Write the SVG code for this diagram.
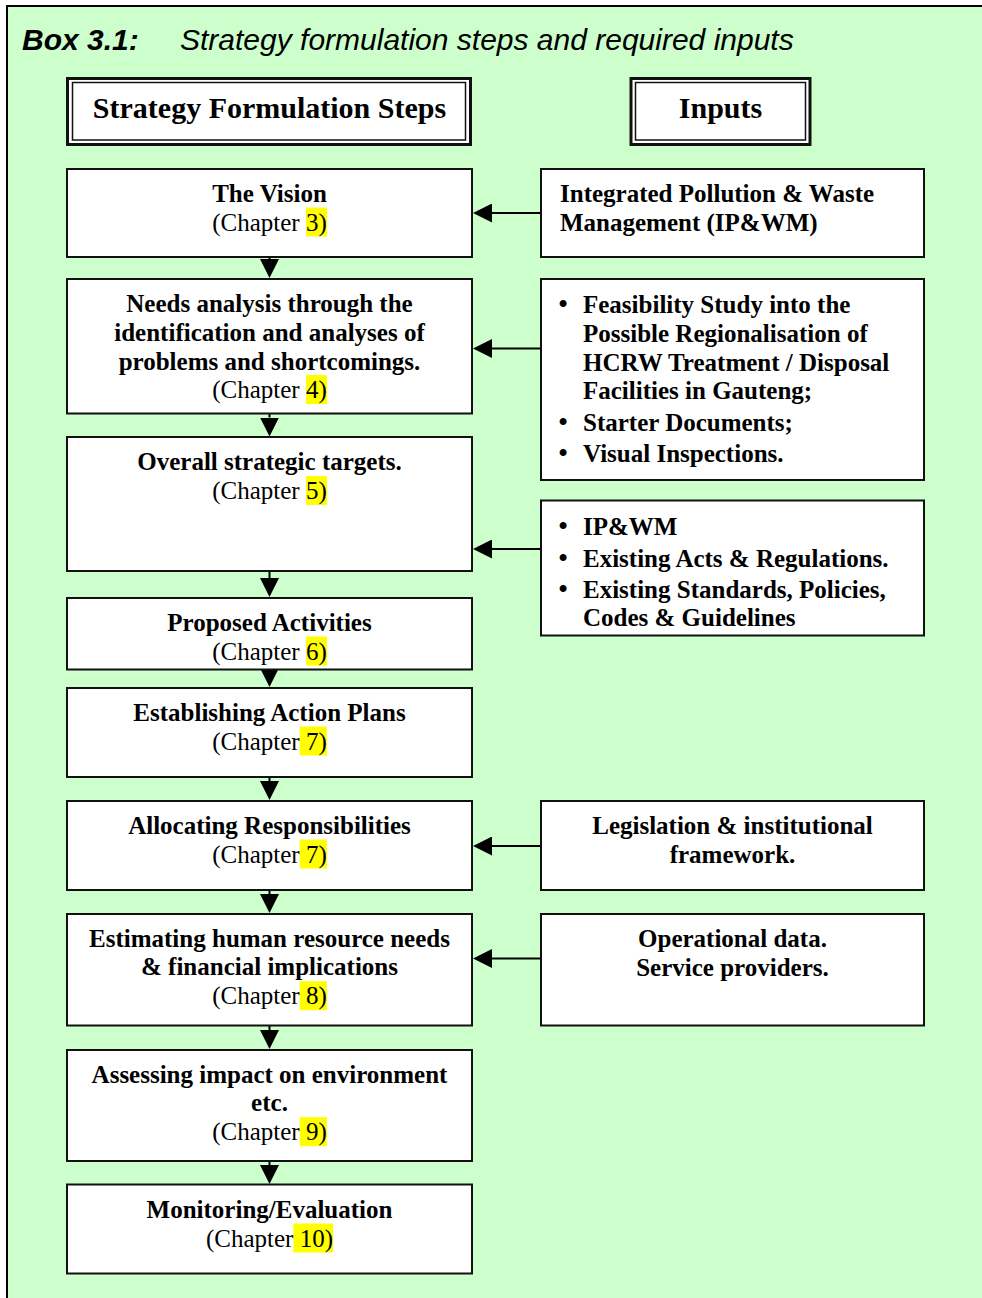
<svg xmlns="http://www.w3.org/2000/svg" width="982" height="1298" viewBox="0 0 982 1298">
<style>
.bg{fill:#CCFFCC}
.frame{fill:none;stroke:#000;stroke-width:2}
.box{fill:#fff;stroke:#111;stroke-width:2}
.hdo{fill:#fff;stroke:#111;stroke-width:3}
.hdi{fill:none;stroke:#111;stroke-width:1.5}
.b{font-family:"Liberation Serif","Times New Roman",serif;font-weight:bold;font-size:25px;fill:#000}
.r{font-family:"Liberation Serif","Times New Roman",serif;font-size:25px;fill:#000}
.bu{font-family:"Liberation Serif","Times New Roman",serif;font-size:29px;fill:#000}
.h{font-family:"Liberation Serif","Times New Roman",serif;font-weight:bold;font-size:30px;fill:#000}
.c{text-anchor:middle}
.hl{fill:#FFFF00}
.t1{font-family:"Liberation Sans",Arial,sans-serif;font-weight:bold;font-style:italic;font-size:30px;fill:#000}
.t2{font-family:"Liberation Sans",Arial,sans-serif;font-style:italic;font-size:30px;fill:#000}
.ln{stroke:#000;stroke-width:2;fill:none}
</style>
<defs>
<marker id="ah" viewBox="0 0 19 19" refX="0" refY="9.5" markerWidth="19" markerHeight="19" markerUnits="userSpaceOnUse" orient="auto">
<path d="M0,0 L19,9.5 L0,19 z" fill="#000"/>
</marker>
</defs>
<rect class="bg" x="7" y="6" width="975" height="1292"/>
<path class="frame" d="M7,1298 V6 H982"/>
<text class="t1" x="22" y="50">Box 3.1:</text>
<text class="t2" x="180" y="50">Strategy formulation steps and required inputs</text>

<g id="hdr-steps">
<rect class="hdo" x="67.5" y="78.5" width="403" height="66"/>
<rect class="hdi" x="72.5" y="82.5" width="393" height="57.5"/>
<text class="h c" x="269.5" y="118">Strategy Formulation Steps</text>
</g>
<g id="hdr-inputs">
<rect class="hdo" x="631" y="78.5" width="179" height="66"/>
<rect class="hdi" x="635.5" y="82.5" width="170" height="57.5"/>
<text class="h c" x="720.5" y="118">Inputs</text>
</g>

<g id="connectors">
<line class="ln" x1="269.5" y1="258" x2="269.5" y2="259" marker-end="url(#ah)"/>
<line class="ln" x1="269.5" y1="414" x2="269.5" y2="417.5" marker-end="url(#ah)"/>
<line class="ln" x1="269.5" y1="572" x2="269.5" y2="578" marker-end="url(#ah)"/>
<line class="ln" x1="269.5" y1="663" x2="269.5" y2="668" marker-end="url(#ah)"/>
<line class="ln" x1="269.5" y1="777" x2="269.5" y2="781" marker-end="url(#ah)"/>
<line class="ln" x1="269.5" y1="890" x2="269.5" y2="894" marker-end="url(#ah)"/>
<line class="ln" x1="269.5" y1="1026" x2="269.5" y2="1030" marker-end="url(#ah)"/>
<line class="ln" x1="269.5" y1="1161" x2="269.5" y2="1165" marker-end="url(#ah)"/>
<line class="ln" x1="541" y1="213" x2="492" y2="213" marker-end="url(#ah)"/>
<line class="ln" x1="541" y1="348.5" x2="492" y2="348.5" marker-end="url(#ah)"/>
<line class="ln" x1="541" y1="549" x2="492" y2="549" marker-end="url(#ah)"/>
<line class="ln" x1="541" y1="846" x2="492" y2="846" marker-end="url(#ah)"/>
<line class="ln" x1="541" y1="958.5" x2="492" y2="958.5" marker-end="url(#ah)"/>
</g>

<g id="s-vision">
<rect class="box" x="67" y="169" width="405" height="88"/>
<rect class="hl" x="306" y="207.5" width="21" height="29"/>
<text class="b c" x="269.5" y="201.7">The Vision</text>
<text class="r c" x="269.5" y="230.5">(Chapter 3)</text>
</g>
<g id="s-needs">
<rect class="box" x="67" y="279" width="405" height="134.5"/>
<rect class="hl" x="306" y="375" width="21" height="29"/>
<text class="b c" x="269.5" y="312">Needs analysis through the</text>
<text class="b c" x="269.5" y="340.75">identification and analyses of</text>
<text class="b c" x="269.5" y="369.5">problems and shortcomings.</text>
<text class="r c" x="269.5" y="398.25">(Chapter 4)</text>
</g>
<g id="s-targets">
<rect class="box" x="67" y="437" width="405" height="134"/>
<rect class="hl" x="306" y="476" width="21" height="29"/>
<text class="b c" x="269.5" y="470">Overall strategic targets.</text>
<text class="r c" x="269.5" y="498.75">(Chapter 5)</text>
</g>
<g id="s-activities">
<rect class="box" x="67" y="598" width="405" height="71.5"/>
<rect class="hl" x="306" y="636.5" width="21" height="29"/>
<text class="b c" x="269.5" y="630.7">Proposed Activities</text>
<text class="r c" x="269.5" y="659.5">(Chapter 6)</text>
</g>
<g id="s-actionplans">
<rect class="box" x="67" y="688" width="405" height="89"/>
<rect class="hl" x="299.7" y="726.5" width="27.2" height="29"/>
<text class="b c" x="269.5" y="720.7">Establishing Action Plans</text>
<text class="r c" x="269.5" y="749.5">(Chapter 7)</text>
</g>
<g id="s-responsibilities">
<rect class="box" x="67" y="801" width="405" height="89"/>
<rect class="hl" x="299.7" y="839.5" width="27.2" height="29"/>
<text class="b c" x="269.5" y="833.7">Allocating Responsibilities</text>
<text class="r c" x="269.5" y="862.5">(Chapter 7)</text>
</g>
<g id="s-resources">
<rect class="box" x="67" y="914" width="405" height="111.5"/>
<rect class="hl" x="299.7" y="981.2" width="27.2" height="29"/>
<text class="b c" x="269.5" y="946.7">Estimating human resource needs</text>
<text class="b c" x="269.5" y="975.45">&amp; financial implications</text>
<text class="r c" x="269.5" y="1004.2">(Chapter 8)</text>
</g>
<g id="s-impact">
<rect class="box" x="67" y="1050" width="405" height="111"/>
<rect class="hl" x="299.7" y="1117.2" width="27.2" height="29"/>
<text class="b c" x="269.5" y="1082.7">Assessing impact on environment</text>
<text class="b c" x="269.5" y="1111.45">etc.</text>
<text class="r c" x="269.5" y="1140.2">(Chapter 9)</text>
</g>
<g id="s-monitoring">
<rect class="box" x="67" y="1184.5" width="405" height="89"/>
<rect class="hl" x="293.4" y="1223.5" width="39.6" height="29"/>
<text class="b c" x="269.5" y="1217.7">Monitoring/Evaluation</text>
<text class="r c" x="269.5" y="1246.5">(Chapter 10)</text>
</g>

<g id="i-ipwm">
<rect class="box" x="541" y="169" width="383" height="88"/>
<text class="b" x="560" y="201.7">Integrated Pollution &amp; Waste</text>
<text class="b" x="560" y="230.5">Management (IP&amp;WM)</text>
</g>
<g id="i-feasibility">
<rect class="box" x="541" y="279" width="383" height="201"/>
<text class="bu" x="558" y="314">•</text>
<text class="b" x="583" y="313">Feasibility Study into the</text>
<text class="b" x="583" y="341.75">Possible Regionalisation of</text>
<text class="b" x="583" y="370.5">HCRW Treatment / Disposal</text>
<text class="b" x="583" y="399.25">Facilities in Gauteng;</text>
<text class="bu" x="558" y="431.5">•</text>
<text class="b" x="583" y="430.5">Starter Documents;</text>
<text class="bu" x="558" y="462.5">•</text>
<text class="b" x="583" y="461.5">Visual Inspections.</text>
</g>
<g id="i-acts">
<rect class="box" x="541" y="500.5" width="383" height="135"/>
<text class="bu" x="558" y="536">•</text>
<text class="b" x="583" y="535">IP&amp;WM</text>
<text class="bu" x="558" y="567.5">•</text>
<text class="b" x="583" y="566.5">Existing Acts &amp; Regulations.</text>
<text class="bu" x="558" y="598.5">•</text>
<text class="b" x="583" y="597.5">Existing Standards, Policies,</text>
<text class="b" x="583" y="626.25">Codes &amp; Guidelines</text>
</g>
<g id="i-legislation">
<rect class="box" x="541" y="801" width="383" height="89"/>
<text class="b c" x="732.5" y="833.7">Legislation &amp; institutional</text>
<text class="b c" x="732.5" y="862.5">framework.</text>
</g>
<g id="i-operational">
<rect class="box" x="541" y="914" width="383" height="111.5"/>
<text class="b c" x="732.5" y="946.7">Operational data.</text>
<text class="b c" x="732.5" y="975.5">Service providers.</text>
</g>
</svg>
